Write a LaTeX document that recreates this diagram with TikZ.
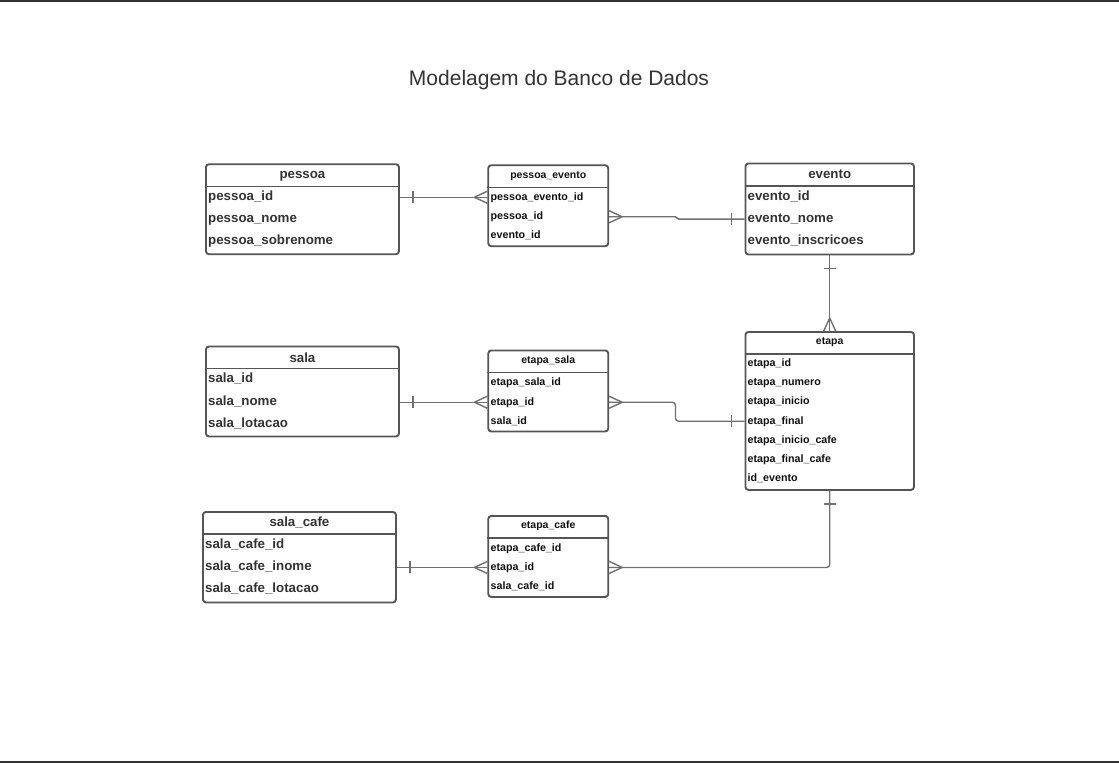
\documentclass[tikz,border=0pt]{standalone}
\usepackage{fontspec}
\setmainfont{Liberation Sans}
\definecolor{bord}{HTML}{555555}
\definecolor{relc}{HTML}{707070}
\definecolor{txt}{HTML}{333333}
\definecolor{txtd}{HTML}{111111}
\begin{document}
\begin{tikzpicture}[x=1pt,y=-1pt,
  ent/.style={draw=bord, line width=1.9pt, rounded corners=3pt, inner sep=0pt, fill=white, anchor=north west},
  bigbox/.style={ent, minimum width=193pt, minimum height=90pt},
  smallbox/.style={ent, minimum width=120pt, minimum height=81pt},
  sep/.style={draw=bord, line width=1.6pt},
  bighdr/.style={inner sep=0pt, text=txt, font=\fontsize{13.3}{15}\selectfont\bfseries},
  smallhdr/.style={inner sep=0pt, text=txtd, font=\fontsize{10.5}{12}\selectfont\bfseries},
  bigf/.style={inner sep=0pt, anchor=base west, text=txt, text height=9.5pt, text depth=3pt, font=\fontsize{13.3}{15}\selectfont\bfseries},
  smallf/.style={inner sep=0pt, anchor=base west, text=txtd, text height=8pt, text depth=2.5pt, font=\fontsize{10.7}{12}\selectfont\bfseries},
  rel/.style={draw=relc, line width=1.4pt},
  crowW/.pic={\draw[rel] (-13,0) -- (0,6) (-13,0) -- (0,-6);},
  crowE/.pic={\draw[rel] (13,0) -- (0,6) (13,0) -- (0,-6);},
  crowN/.pic={\draw[rel] (0,-13) -- (6,0) (0,-13) -- (-6,0);},
  barW/.pic={\draw[rel] (-13,-6) -- (-13,6);},
  barE/.pic={\draw[rel] (13,-6) -- (13,6);},
  barS/.pic={\draw[rel] (-6,13) -- (6,13);},
  frame/.style={draw=txt, line width=1.6pt}
]
\useasboundingbox (0,0) rectangle (1119,763);
\fill[white] (0,0) rectangle (1119,763);
\draw[frame] (0,0.8) -- (1119,0.8);
\draw[frame] (0,761.8) -- (1119,761.8);

\node[inner sep=0pt, text=txt, font=\fontsize{21}{25}\selectfont] (title) at (559,80) {Modelagem do Banco de Dados};

% ---------- pessoa ----------
\node[bigbox] (pessoa) at (205,163.3) {};
\draw[sep] ([yshift=-23pt]pessoa.north west) -- ([yshift=-23pt]pessoa.north east);
\node[bighdr] (pessoa_h) at ([yshift=-12.5pt]pessoa.north) {pessoa};
\node[bigf] (pessoa_r1) at (208,200.7) {pessoa\_id};
\node[bigf] (pessoa_r2) at (208,222) {pessoa\_nome};
\node[bigf] (pessoa_r3) at (208,244) {pessoa\_sobrenome};

% ---------- pessoa_evento ----------
\node[smallbox] (pe) at (487.3,164.3) {};
\draw[sep] ([yshift=-23pt]pe.north west) -- ([yshift=-23pt]pe.north east);
\node[smallhdr] (pe_h) at ([yshift=-11.5pt]pe.north) {pessoa\_evento};
\node[smallf] (pe_r1) at (490.5,200) {pessoa\_evento\_id};
\node[smallf] (pe_r2) at (490.5,219.5) {pessoa\_id};
\node[smallf] (pe_r3) at (490.5,238.5) {evento\_id};

% ---------- evento ----------
\node[ent, minimum width=168.5pt, minimum height=91pt] (evento) at (744.5,162.5) {};
\draw[sep] ([yshift=-23.5pt]evento.north west) -- ([yshift=-23.5pt]evento.north east);
\node[bighdr] (evento_h) at ([yshift=-12pt]evento.north) {evento};
\node[bigf] (evento_r1) at (747.5,200.7) {evento\_id};
\node[bigf] (evento_r2) at (747.5,222.3) {evento\_nome};
\node[bigf] (evento_r3) at (747.5,244.5) {evento\_inscricoes};

% ---------- sala ----------
\node[bigbox] (sala) at (205,345.5) {};
\draw[sep] ([yshift=-23pt]sala.north west) -- ([yshift=-23pt]sala.north east);
\node[bighdr] (sala_h) at ([yshift=-12pt]sala.north) {sala};
\node[bigf] (sala_r1) at (208,382.3) {sala\_id};
\node[bigf] (sala_r2) at (208,405) {sala\_nome};
\node[bigf] (sala_r3) at (208,427) {sala\_lotacao};

% ---------- etapa_sala ----------
\node[smallbox] (es) at (487.3,349.5) {};
\draw[sep] ([yshift=-23pt]es.north west) -- ([yshift=-23pt]es.north east);
\node[smallhdr] (es_h) at ([yshift=-11pt]es.north) {etapa\_sala};
\node[smallf] (es_r1) at (490.5,385.5) {etapa\_sala\_id};
\node[smallf] (es_r2) at (490.5,405) {etapa\_id};
\node[smallf] (es_r3) at (490.5,424) {sala\_id};

% ---------- etapa ----------
\node[ent, minimum width=168.5pt, minimum height=158pt] (etapa) at (744.5,331) {};
\draw[sep] ([yshift=-23pt]etapa.north west) -- ([yshift=-23pt]etapa.north east);
\node[smallhdr] (etapa_h) at ([yshift=-11pt]etapa.north) {etapa};
\node[smallf] (et_r1) at (747.5,366.2) {etapa\_id};
\node[smallf] (et_r2) at (747.5,385.5) {etapa\_numero};
\node[smallf] (et_r3) at (747.5,404.5) {etapa\_inicio};
\node[smallf] (et_r4) at (747.5,424) {etapa\_final};
\node[smallf] (et_r5) at (747.5,443.2) {etapa\_inicio\_cafe};
\node[smallf] (et_r6) at (747.5,462.5) {etapa\_final\_cafe};
\node[smallf] (et_r7) at (747.5,481.5) {id\_evento};

% ---------- sala_cafe ----------
\node[ent, minimum width=193pt, minimum height=90.5pt] (sc) at (202,511) {};
\draw[sep] ([yshift=-23pt]sc.north west) -- ([yshift=-23pt]sc.north east);
\node[bighdr] (sc_h) at ([yshift=-11.5pt]sc.north) {sala\_cafe};
\node[bigf] (sc_r1) at (205,548.3) {sala\_cafe\_id};
\node[bigf] (sc_r2) at (205,570.7) {sala\_cafe\_inome};
\node[bigf] (sc_r3) at (205,592.3) {sala\_cafe\_lotacao};

% ---------- etapa_cafe ----------
\node[smallbox] (ec) at (487.3,515) {};
\draw[sep] ([yshift=-23pt]ec.north west) -- ([yshift=-23pt]ec.north east);
\node[smallhdr] (ec_h) at ([yshift=-11pt]ec.north) {etapa\_cafe};
\node[smallf] (ec_r1) at (490.5,551.2) {etapa\_cafe\_id};
\node[smallf] (ec_r2) at (490.5,570.2) {etapa\_id};
\node[smallf] (ec_r3) at (490.5,589.2) {sala\_cafe\_id};

% ---------- connectors ----------
% pessoa -- pessoa_evento
\draw[rel] (pessoa.east |- pe_r1) -- (pe.west |- pe_r1);
\pic at (pessoa.east |- pe_r1) {barE};
\pic at (pe.west |- pe_r1) {crowW};

% pessoa_evento -- evento
\draw[rel, rounded corners=1.5pt] (pe.east |- pe_r2) -- ([xshift=67pt]pe.east |- pe_r2) -- ([xshift=-67pt]evento.west |- evento_r2) -- (evento.west |- evento_r2);
\pic at (pe.east |- pe_r2) {crowE};
\pic at (evento.west |- evento_r2) {barW};

% evento -- etapa
\draw[rel] (evento.south) -- (etapa.north);
\pic at (evento.south) {barS};
\pic at (etapa.north) {crowN};

% sala -- etapa_sala
\draw[rel] (sala.east |- es_r2) -- (es.west |- es_r2);
\pic at (sala.east |- es_r2) {barE};
\pic at (es.west |- es_r2) {crowW};

% etapa_sala -- etapa
\draw[rel, rounded corners=3pt] (es.east |- es_r2) -| ([xshift=-69pt]etapa.west |- et_r4) -- (etapa.west |- et_r4);
\pic at (es.east |- es_r2) {crowE};
\pic at (etapa.west |- et_r4) {barW};

% sala_cafe -- etapa_cafe
\draw[rel] (sc.east |- ec_r2) -- (ec.west |- ec_r2);
\pic at (sc.east |- ec_r2) {barE};
\pic at (ec.west |- ec_r2) {crowW};

% etapa_cafe -- etapa
\draw[rel, rounded corners=3pt] (ec.east |- ec_r2) -| (etapa.south);
\pic at (ec.east |- ec_r2) {crowE};
\pic at (etapa.south) {barS};
\end{tikzpicture}
\end{document}
